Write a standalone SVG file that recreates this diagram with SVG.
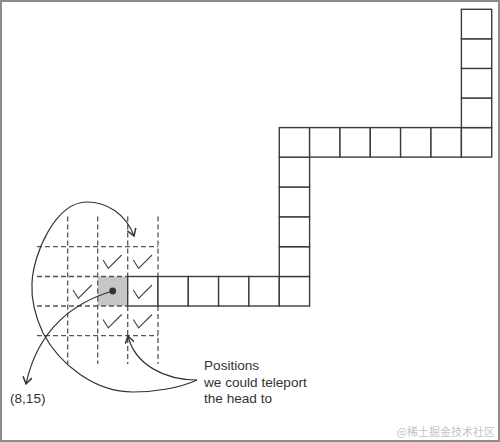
<svg xmlns="http://www.w3.org/2000/svg" width="500" height="442" viewBox="0 0 500 442">
<defs>
<style>
.cell{fill:#fff;stroke:#3c3c3c;stroke-width:1.4}
.dash{stroke:#555;stroke-width:1.3;stroke-dasharray:5 3;fill:none}
.chk{fill:none;stroke:#444;stroke-width:1.1;stroke-linejoin:miter}
.arr{fill:none;stroke:#333;stroke-width:1.2}
.lbl{font-family:"Liberation Sans",Arial,sans-serif;font-size:13.6px;fill:#333}
</style>
<marker id="ah" viewBox="-8 -5 10 10" markerWidth="10" markerHeight="10" refX="0" refY="0" orient="auto" markerUnits="userSpaceOnUse">
<path d="M-7,-4.5 L0,0 L-7,4.5" fill="none" stroke="#333" stroke-width="1.5"/>
</marker>
</defs>
<rect x="1" y="1" width="498" height="440" fill="#fff" stroke="#8c8c8c" stroke-width="2"/>

<g id="head">
<rect x="97.7" y="276.5" width="30" height="29.5" fill="#c6c6c6"/>
<circle cx="112.7" cy="291" r="3.4" fill="#333"/>
</g>

<g id="teleport-grid">
<path class="dash" d="M37,246.7H158M37,276.5H128M37,306H128M37,335.7H158M67.7,216.5V364M97.7,216.5V364M127.7,216.5V276.5M127.7,306V364M158,216.5V276.5M158,306V364"/>
</g>

<g id="snake">
<rect class="cell" x="127.7" y="276.5" width="30.3" height="29.5"/>
<rect class="cell" x="158" y="276.5" width="30.3" height="29.5"/>
<rect class="cell" x="188.3" y="276.5" width="30.3" height="29.5"/>
<rect class="cell" x="218.6" y="276.5" width="30.3" height="29.5"/>
<rect class="cell" x="248.9" y="276.5" width="30.4" height="29.5"/>
<rect class="cell" x="279.3" y="276.5" width="30.3" height="29.5"/>
<rect class="cell" x="279.3" y="246.7" width="30.3" height="29.8"/>
<rect class="cell" x="279.3" y="216.8" width="30.3" height="29.9"/>
<rect class="cell" x="279.3" y="187" width="30.3" height="29.8"/>
<rect class="cell" x="279.3" y="157.1" width="30.3" height="29.9"/>
<rect class="cell" x="279.3" y="127.6" width="30.3" height="29.5"/>
<rect class="cell" x="309.6" y="127.6" width="30.4" height="29.5"/>
<rect class="cell" x="340" y="127.6" width="30.3" height="29.5"/>
<rect class="cell" x="370.3" y="127.6" width="30.3" height="29.5"/>
<rect class="cell" x="400.6" y="127.6" width="30.4" height="29.5"/>
<rect class="cell" x="431" y="127.6" width="30.4" height="29.5"/>
<rect class="cell" x="461.4" y="127.6" width="30.3" height="29.5"/>
<rect class="cell" x="461.4" y="98" width="30.3" height="29.6"/>
<rect class="cell" x="461.4" y="68.4" width="30.3" height="29.6"/>
<rect class="cell" x="461.4" y="38.8" width="30.3" height="29.6"/>
<rect class="cell" x="461.4" y="9.3" width="30.3" height="29.5"/>
</g>

<g id="checks">
<path class="chk" d="M103,260L108.3,268.3L121.7,255"/>
<path class="chk" d="M133.3,260L138.6,268.3L152,255"/>
<path class="chk" d="M73,290L78.3,298.3L91.7,285"/>
<path class="chk" d="M133.3,290L138.6,298.3L152,285"/>
<path class="chk" d="M103,319.5L108.3,327.8L121.7,314.5"/>
<path class="chk" d="M133.3,319.5L138.6,327.8L152,314.5"/>
</g>

<g id="connectors">
<path class="arr" marker-end="url(#ah)" d="M112.7,291C75,302 38,328 26,384"/>
<path class="arr" marker-end="url(#ah)" d="M197,380C180,388 155,392 133,392C95,392 60,365 43,333C36,318 31,300 32,283C33,255 55,202 87,202C107,202 126,214 134,236"/>
<path class="arr" marker-end="url(#ah)" d="M197,380C165,380 135,365 128,336"/>
</g>

<g id="labels">
<text class="lbl" x="10" y="403">(8,15)</text>
<text class="lbl" x="204" y="370">Positions</text>
<text class="lbl" x="204" y="386.5">we could teleport</text>
<text class="lbl" x="204" y="403">the head to</text>
<text x="495" y="436" text-anchor="end" font-family="'Noto Sans CJK SC',sans-serif" font-size="11" fill="#c4c4c4">@稀土掘金技术社区</text>
</g>
</svg>
